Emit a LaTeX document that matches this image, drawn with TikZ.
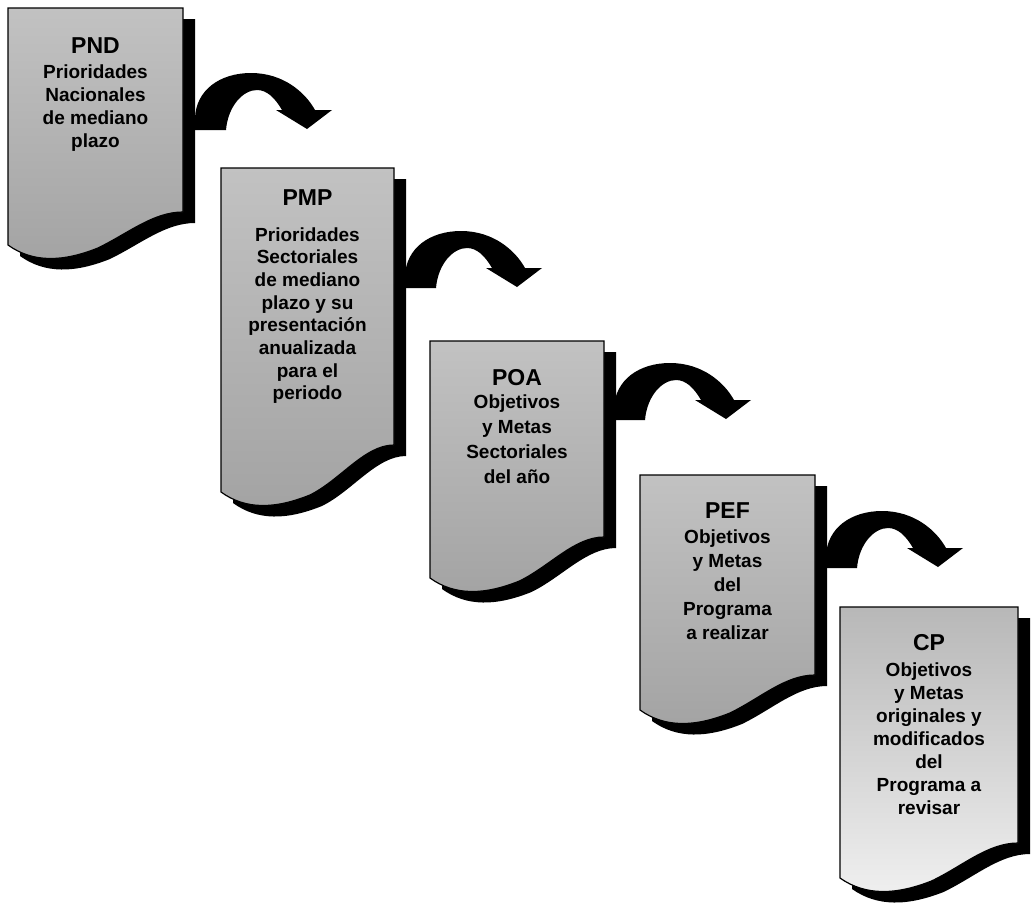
\documentclass[tikz,border=0pt]{standalone}
\usepackage{fontspec}
\setmainfont{Liberation Sans}

% outline of a document sheet: x, y (top-left), width, left height, rise of the right end
\newcommand\sheetpath[5]{%
  (#1,#2) -- (#1+#3,#2) -- (#1+#3,#2+#4-#5)
  .. controls (#1+#3*0.83,#2+#4-#5) and (#1+#3*0.69,#2+#4-12) .. (#1+#3*0.514,#2+#4+3)
  .. controls (#1+#3*0.314,#2+#4+17) and (#1+#3*0.143,#2+#4+18) .. (#1,#2+#4) -- cycle}

% body lines set in a top-aligned tabular so the node base is the first baseline
\newcommand\sheetlines[2]{\fontsize{19}{#1}\selectfont\bfseries
  \begin{tabular}[t]{@{}c@{}}#2\end{tabular}}

\tikzset{
  sheetshadow/.style={fill=black},
  sheetbody/.style={draw=black, line width=1.2pt, top color=black!24, bottom color=black!36},
  sheetlight/.style={draw=black, line width=1.2pt, top color=black!28, bottom color=black!6},
  sheettitle/.style={font=\fontsize{23}{27}\selectfont\bfseries, inner sep=0pt, anchor=base},
  sheettext/.style={inner sep=0pt, anchor=base},
  bendarrow/.style={fill=black}
}

\begin{document}
\begin{tikzpicture}[x=1pt, y=-1pt]
\useasboundingbox (0,0) rectangle (1032,906);

% ---- sheets: shadow first, then the sheet itself
\fill[sheetshadow] \sheetpath{20}{19}{175}{237}{33};
\path[sheetbody]   \sheetpath{8}{8}{175}{237}{33};

\fill[sheetshadow] \sheetpath{233}{179}{173}{324}{47};
\path[sheetbody]   \sheetpath{221}{168}{173}{324}{47};

\fill[sheetshadow] \sheetpath{442}{352}{174}{237}{41};
\path[sheetbody]   \sheetpath{430}{341}{174}{237}{41};

\fill[sheetshadow] \sheetpath{652}{486}{175}{235}{35};
\path[sheetbody]   \sheetpath{640}{475}{175}{235}{35};

\fill[sheetshadow] \sheetpath{852}{618}{178}{271}{35};
\path[sheetlight]  \sheetpath{840}{607}{178}{271}{35};

% ---- titles and descriptions
\node[sheettitle] (pnd) at (95.5,53) {PND};
\node[sheettext] (pndtxt) at (95.5,78)
  {\sheetlines{23}{Prioridades\\Nacionales\\de mediano\\plazo}};

\node[sheettitle] (pmp) at (307.5,205) {PMP};
\node[sheettext] (pmptxt) at (307.5,241)
  {\sheetlines{22.7}{Prioridades\\Sectoriales\\de mediano\\plazo y su\\presentación\\anualizada\\para el\\periodo}};

\node[sheettitle] (poa) at (517,385) {POA};
\node[sheettext] (poatxt) at (517,408)
  {\sheetlines{25}{Objetivos\\y Metas\\Sectoriales\\del año}};

\node[sheettitle] (pef) at (727.5,518) {PEF};
\node[sheettext] (peftxt) at (727.5,543)
  {\sheetlines{24}{Objetivos\\y Metas\\del\\Programa\\a realizar}};

\node[sheettitle] (cp) at (929,650) {CP};
\node[sheettext] (cptxt) at (929,676)
  {\sheetlines{23}{Objetivos\\y Metas\\originales y\\modificados\\del\\Programa a\\revisar}};

% ---- curved block arrows, each anchored at the foot of its tail
\coordinate (t1) at (195,130);
\coordinate (t2) at (405,288);
\coordinate (t3) at (614,420);
\coordinate (t4) at (826,568);

\foreach \t in {t1,t2,t3,t4}{
  \fill[bendarrow, shift={(\t)}]
    (0,0) -- (0,-12) .. controls (1,-40) and (25,-57) .. (56,-57)
    .. controls (88,-57) and (110,-38) .. (120,-20)
    -- (137,-20) -- (112,-1) -- (81,-20) -- (87,-20)
    .. controls (80,-32) and (72,-40) .. (62,-40)
    .. controls (48,-40) and (33,-24) .. (31,0) -- cycle;
}
\end{tikzpicture}
\end{document}
